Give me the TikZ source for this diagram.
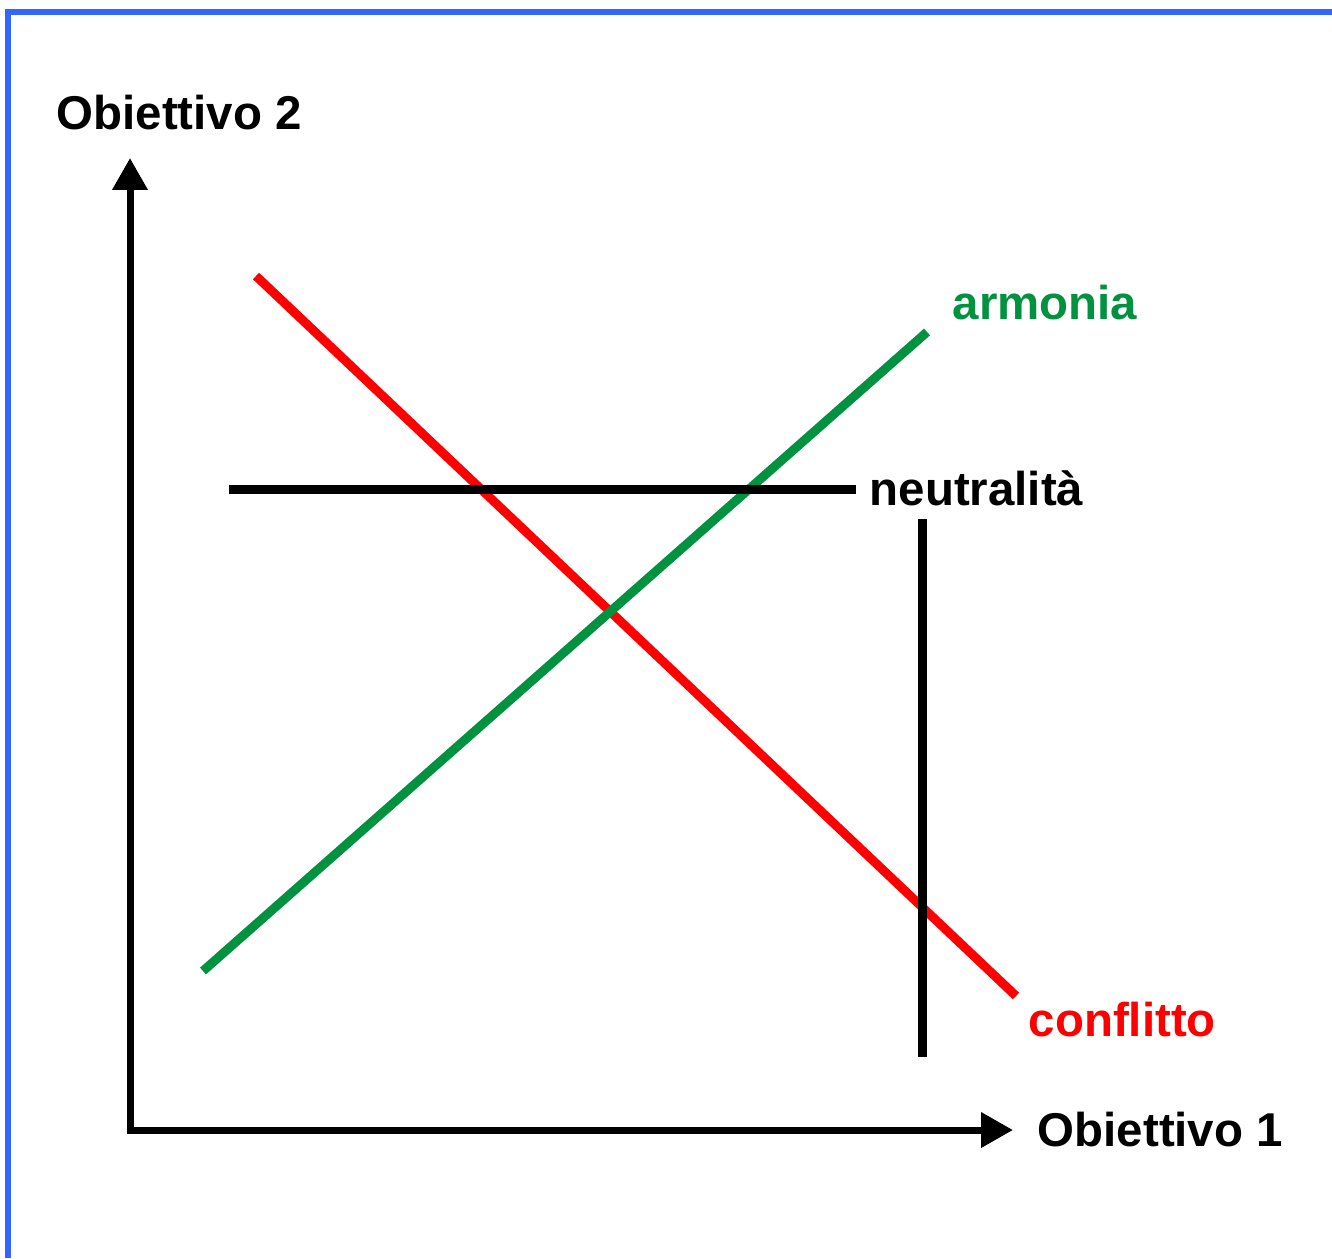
\documentclass[tikz,border=0pt]{standalone}
\usepackage{fontspec}
\setmainfont{Liberation Sans}
\usepackage{xcolor}
\usetikzlibrary{arrows.meta,positioning}
\definecolor{frameblue}{RGB}{51,102,255}
\definecolor{armgreen}{RGB}{0,146,63}
\definecolor{confred}{RGB}{255,0,0}

\begin{document}
\begin{tikzpicture}[
  ax/.style={line width=0.07cm, black, miter limit=10, {Triangle[length=0.32cm,width=0.34cm]}-{Triangle[length=0.32cm,width=0.34cm]}},
  ln/.style={line width=0.09cm},
  lbl/.style={font=\fontsize{13.5}{16}\selectfont\bfseries, anchor=base west, inner sep=0pt}
]
  \useasboundingbox (0,0) rectangle (13.32,12.58);

  % frame
  \draw[frameblue, line width=0.06cm] (0.08,0) -- (0.08,12.46) -- (13.32,12.46);

  % axes
  \coordinate (orig) at (1.30,1.28);
  \coordinate (ytip) at (1.30,11.00);
  \coordinate (xtip) at (10.13,1.28);
  \draw[ax] (ytip) -- (orig) -- (xtip);
  \node[lbl] (ylab) at (0.56,11.28) {Obiettivo 2};
  \node[lbl] (xlab) at (10.37,1.12) {Obiettivo 1};

  % lines
  \coordinate (c1) at (2.56,9.82);
  \coordinate (c2) at (10.16,2.62);
  \coordinate (a1) at (2.03,2.87);
  \coordinate (a2) at (9.27,9.26);
  \coordinate (n1) at (2.29,7.69);
  \coordinate (n2) at (8.56,7.69);
  \coordinate (v1) at (9.22,7.39);
  \coordinate (v2) at (9.22,2.01);
  \draw[ln, confred] (c1) -- (c2);
  \draw[ln, armgreen] (a1) -- (a2);
  \draw[ln, black] (n1) -- (n2);
  \draw[ln, black] (v1) -- (v2);

  % labels
  \node[lbl, armgreen] (arm) at (9.52,9.38) {armonia};
  \node[lbl] (neu) at (8.69,7.53) {neutralità};
  \node[lbl, confred] (con) at (10.28,2.22) {conflitto};
\end{tikzpicture}
\end{document}
